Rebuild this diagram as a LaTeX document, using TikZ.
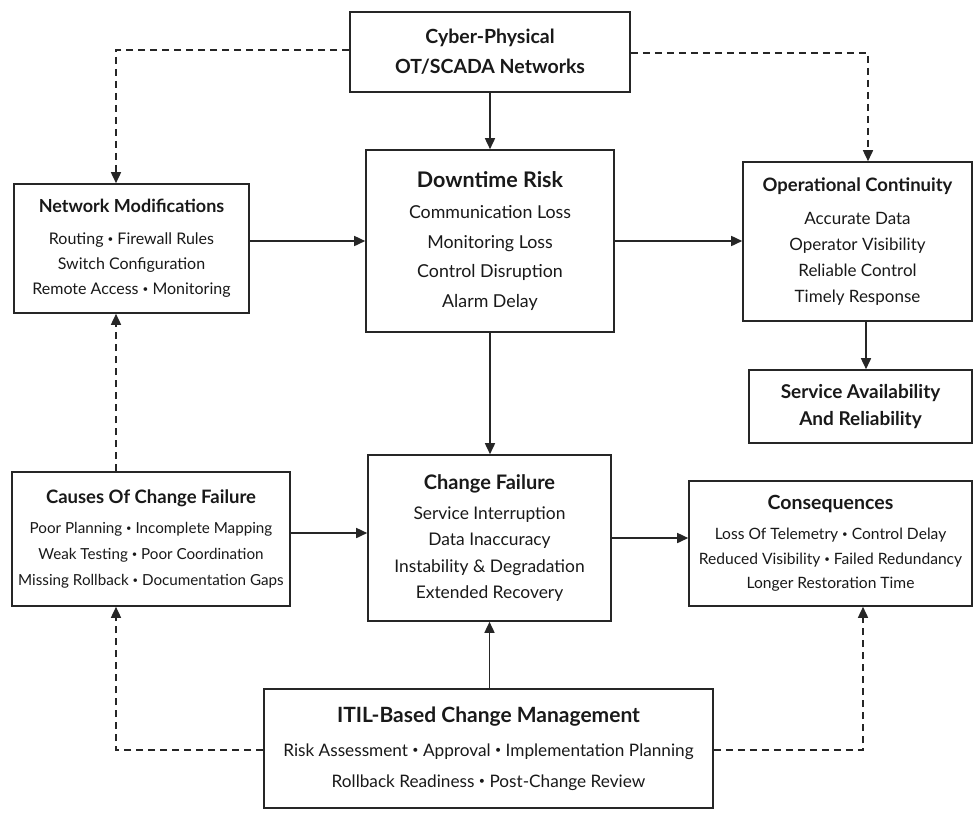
\documentclass[tikz,border=0pt]{standalone}
\usepackage{fontspec}
\usepackage{graphicx}
\setmainfont{Lato}
\usetikzlibrary{arrows.meta,calc}
\tikzset{
 box/.style={draw=black!85, line width=1.6pt, inner sep=0pt, fill=white},
 txt/.style={align=center, inner sep=0pt, text=black!90},
 arr/.style={line width=1.6pt, draw=black!85, -{Triangle[length=11pt,width=10pt]}},
 darr/.style={arr, dash pattern=on 7pt off 5pt},
}
\newcommand\ttl[2]{{\fontsize{#1}{#1}\selectfont\bfseries #2}}
\newcommand\bul{\raisebox{0.13em}{\scalebox{0.62}{•}}}
\begin{document}
\begin{tikzpicture}[x=1pt,y=-1pt]
\useasboundingbox[fill=white] (0,0) rectangle (973,812);

% boxes
\node[box,minimum width=280pt,minimum height=80pt] (cy) at (490,52) {};
\node[box,minimum width=235pt,minimum height=129pt] (nm) at (131.5,248.5) {};
\node[box,minimum width=248pt,minimum height=182pt] (dt) at (490,241) {};
\node[box,minimum width=229pt,minimum height=159pt] (oc) at (857.5,241.5) {};
\node[box,minimum width=223pt,minimum height=73pt] (sa) at (860.5,406.5) {};
\node[box,minimum width=278pt,minimum height=134pt] (ca) at (151,539) {};
\node[box,minimum width=243pt,minimum height=166pt] (cf) at (489.5,538) {};
\node[box,minimum width=283pt,minimum height=125pt] (co) at (830.5,543.5) {};
\node[box,minimum width=449pt,minimum height=119pt] (it) at (488.5,748.5) {};

% texts
\node[txt,font=\fontsize{19.5}{30}\selectfont\bfseries] (cyT) at (cy.center) {Cyber-Physical\\OT/SCADA Networks};
\node[txt,font=\fontsize{17.8}{29.5}\selectfont] (dtT) at (dt.center) {\ttl{21.5}{Downtime Risk}\\[2pt]Communication Loss\\Monitoring Loss\\Control Disruption\\Alarm Delay};
\node[txt,font=\fontsize{16}{25}\selectfont] (nmT) at (nm.center) {\ttl{18}{Network Modifications}\\[7pt]Routing \bul{} Firewall Rules\\Switch Configuration\\Remote Access \bul{} Monitoring};
\node[txt,font=\fontsize{17}{26}\selectfont] (ocT) at (oc.center) {\ttl{18.5}{Operational Continuity}\\[6.5pt]Accurate Data\\Operator Visibility\\Reliable Control\\Timely Response};
\node[txt,font=\fontsize{19}{27}\selectfont\bfseries] (saT) at (sa.center) {Service Availability\\And Reliability};
\node[txt,font=\fontsize{15.2}{25.7}\selectfont] (caT) at (ca.center) {\ttl{18.5}{Causes Of Change Failure}\\[4pt]Poor Planning \bul{} Incomplete Mapping\\Weak Testing \bul{} Poor Coordination\\Missing Rollback \bul{} Documentation Gaps};
\node[txt,font=\fontsize{17.4}{26.5}\selectfont] (cfT) at (cf.center) {\ttl{20}{Change Failure}\\[3.5pt]Service Interruption\\Data Inaccuracy\\Instability \& Degradation\\Extended Recovery};
\node[txt,font=\fontsize{15.6}{24.5}\selectfont] (coT) at (co.center) {\ttl{19.5}{Consequences}\\[6pt]Loss Of Telemetry \bul{} Control Delay\\Reduced Visibility \bul{} Failed Redundancy\\Longer Restoration Time};
\node[txt,font=\fontsize{17.2}{31}\selectfont] (itT) at (it.center) {\ttl{21}{ITIL-Based Change Management}\\[2.6pt]Risk Assessment \bul{} Approval \bul{} Implementation Planning\\Rollback Readiness \bul{} Post-Change Review};

% helper coordinates
\coordinate (lx) at (116,0);
\coordinate (rx) at (868,0);
\coordinate (rx2) at (863,0);

% solid arrows
\draw[arr] (cy.south) -- (dt.north);
\draw[arr] (dt.south) -- (dt.south |- cf.north);
\draw[arr] (it.north -| cf.south) -- (cf.south);
\draw[arr] (nm.east |- dt.west) -- (dt.west);
\draw[arr] (dt.east) -- (dt.east -| oc.west);
\draw[arr] ([yshift=6pt]ca.east) -- ([yshift=6pt]ca.east -| cf.west);
\draw[arr] (cf.east) -- (cf.east -| co.west);
\draw[arr] ([xshift=8.5pt]oc.south) -- ([xshift=8.5pt]oc.south |- sa.north);

% dashed arrows
\draw[darr] ([yshift=2pt]cy.west) -| (lx |- nm.north);
\draw[darr] ([yshift=-1pt]cy.east) -| (rx |- oc.north);
\draw[darr] (ca.north -| lx) -- (nm.south -| lx);
\draw[darr] ([yshift=-1.5pt]it.west) -| (lx |- ca.south);
\draw[darr] ([yshift=-1.5pt]it.east) -| (rx2 |- co.south);
\end{tikzpicture}
\end{document}
